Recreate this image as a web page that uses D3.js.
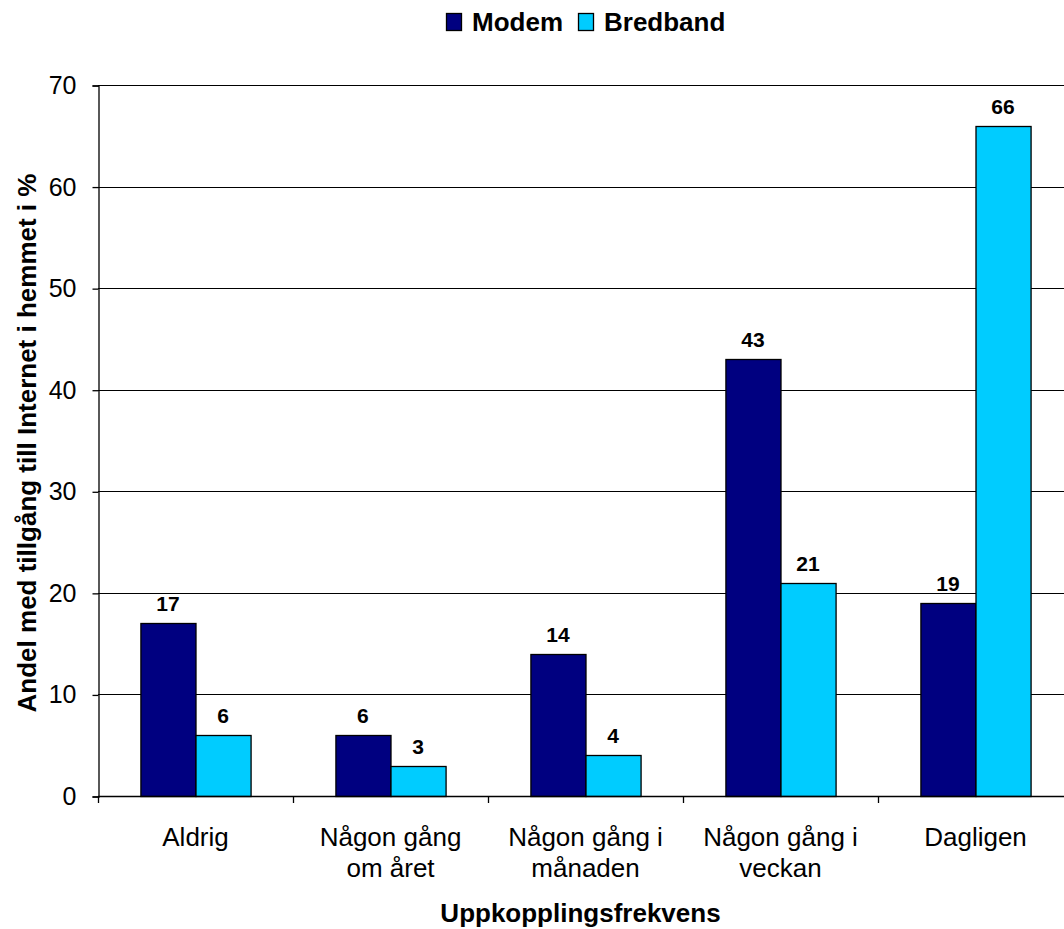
<!DOCTYPE html>
<html>
<head>
<meta charset="utf-8">
<script src="https://cdn.jsdelivr.net/npm/d3@7"></script>
<style>
  body { margin: 0; background: #fff; }
  text { font-family: "Liberation Sans", Arial, sans-serif; fill: #000; }
</style>
</head>
<body>
<svg id="chart" width="1064" height="929"></svg>
<script>
// data
const categories = ["Aldrig", "Någon gång\nom året", "Någon gång i\nmånaden", "Någon gång i\nveckan", "Dagligen"];
const seriesNames = ["Modem", "Bredband"];
const modemValues = [17, 6, 14, 43, 19];
const bredbandValues = [6, 3, 4, 21, 66];
const yTicks = [0, 10, 20, 30, 40, 50, 60, 70];

const colors = { "Modem": "#000080", "Bredband": "#00ccff" };

const svg = d3.select("#chart");
const plotLeft = 98, plotTop = 85, plotBottom = 796;
const plotRight = plotLeft + 195 * categories.length;

// scales
const y = d3.scaleLinear().domain([0, 70]).range([plotBottom, plotTop]);
const x0 = d3.scaleBand().domain(categories).range([plotLeft, plotRight]).padding(0);
const x1 = d3.scaleBand().domain(seriesNames).range([0, x0.bandwidth()])
    .paddingInner(0).paddingOuter(0.77);

const rows = categories.map((c, i) => ({
    category: c,
    values: [
        { name: "Modem", value: modemValues[i] },
        { name: "Bredband", value: bredbandValues[i] }
    ]
}));

// gridlines
svg.append("g")
    .selectAll("line")
    .data(yTicks.filter(d => d > 0))
    .enter().append("line")
    .attr("x1", plotLeft).attr("x2", plotRight)
    .attr("y1", d => Math.round(y(d)) + 0.5)
    .attr("y2", d => Math.round(y(d)) + 0.5)
    .attr("stroke", "#000")
    .attr("stroke-width", 1);

// bars
const groups = svg.append("g")
    .selectAll("g")
    .data(rows)
    .enter().append("g")
    .attr("transform", d => "translate(" + x0(d.category) + ",0)");

groups.selectAll("rect")
    .data(d => d.values)
    .enter().append("rect")
    .attr("x", d => x1(d.name) + 0.5)
    .attr("y", d => Math.round(y(d.value)) + 0.5)
    .attr("width", x1.bandwidth())
    .attr("height", d => Math.round(plotBottom) - Math.round(y(d.value)))
    .attr("fill", d => colors[d.name])
    .attr("stroke", "#000")
    .attr("stroke-width", 1.3);

// value labels
groups.selectAll("text")
    .data(d => d.values)
    .enter().append("text")
    .attr("x", d => x1(d.name) + x1.bandwidth() / 2)
    .attr("y", d => y(d.value) - 12)
    .attr("text-anchor", "middle")
    .style("font-size", "21px")
    .style("font-weight", "bold")
    .text(d => d.value);

// y axis
const yAxis = svg.append("g")
    .attr("transform", "translate(" + (plotLeft + 0.5) + ",0.5)")
    .call(d3.axisLeft(y).tickValues(yTicks).tickSize(6).tickPadding(16));
yAxis.select(".domain").attr("stroke", "#000").attr("stroke-width", 1.3);
yAxis.selectAll(".tick line").attr("stroke", "#000").attr("stroke-width", 1.3);
yAxis.selectAll(".tick text")
    .style("font-size", "25px")
    .style("font-family", "Liberation Sans, Arial, sans-serif");

// x axis with ticks on category boundaries
const xAxisG = svg.append("g");
xAxisG.append("line")
    .attr("x1", plotLeft).attr("x2", plotRight)
    .attr("y1", plotBottom + 0.5).attr("y2", plotBottom + 0.5)
    .attr("stroke", "#000").attr("stroke-width", 1.3);
xAxisG.selectAll(".xtick")
    .data(categories)
    .enter().append("line")
    .attr("x1", d => x0(d) + 0.5).attr("x2", d => x0(d) + 0.5)
    .attr("y1", plotBottom).attr("y2", plotBottom + 7)
    .attr("stroke", "#000").attr("stroke-width", 1.3);

const catLabels = xAxisG.selectAll(".xlabel")
    .data(categories)
    .enter().append("text")
    .attr("text-anchor", "middle")
    .attr("transform", d => "translate(" + (x0(d) + x0.bandwidth() / 2) + "," + 846 + ")")
    .style("font-size", "26px");
catLabels.each(function (d) {
    const t = d3.select(this);
    d.split("\n").forEach((line, i) => {
        t.append("tspan").attr("x", 0).attr("y", i * 31).text(line);
    });
});

// axis titles
svg.append("text")
    .attr("x", (plotLeft + plotRight) / 2 - 5)
    .attr("y", 922)
    .attr("text-anchor", "middle")
    .style("font-size", "26px")
    .style("font-weight", "bold")
    .text("Uppkopplingsfrekvens");

svg.append("text")
    .attr("transform", "translate(36,443) rotate(-90)")
    .attr("text-anchor", "middle")
    .style("font-size", "26px")
    .style("font-weight", "bold")
    .text("Andel med tillgång till Internet i hemmet i %");

// legend
const legend = svg.append("g").attr("transform", "translate(446,13)");
const legendX = [0, 132];
seriesNames.forEach((name, i) => {
    const g = legend.append("g").attr("transform", "translate(" + legendX[i] + ",0)");
    g.append("rect")
        .attr("x", 0.5).attr("y", 0.5)
        .attr("width", 15).attr("height", 17)
        .attr("fill", colors[name])
        .attr("stroke", "#000").attr("stroke-width", 1.3);
    g.append("text")
        .attr("x", 26).attr("y", 18)
        .style("font-size", "26px")
        .style("font-weight", "bold")
        .text(name);
});
</script>
</body>
</html>
